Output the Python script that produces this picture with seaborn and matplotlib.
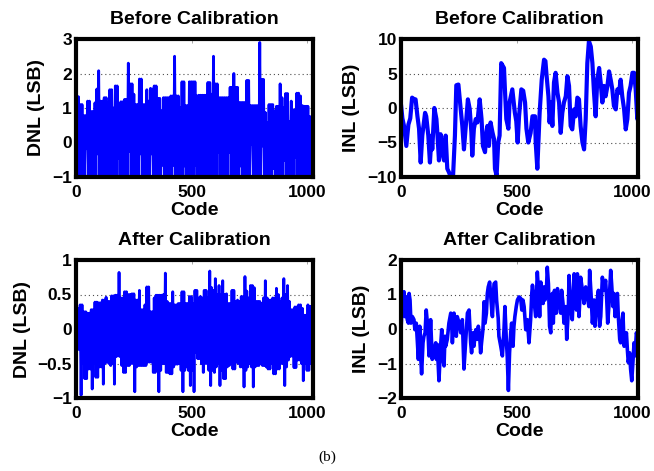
import numpy as np
import pandas as pd
import seaborn as sns
import matplotlib.pyplot as plt

# DNL is read as the top / bottom of the trace over blocks of 8 codes
BLOCK = 8

dnl_before_hi = [1.33, 1.33, 1.1, 1.1, 0.78, 0.78, 1.2, 1.2,
                 0.9, 0.9, 1.15, 1.55, 2.08, 1.2, 1.2, 1.3,
                 1.3, 1.15, 1.53, 1.53, 1.0, 1.64, 1.64, 1.1,
                 1.18, 1.18, 1.25, 1.25, 2.3, 1.7, 1.7, 1.4,
                 1.1, 1.1, 1.84, 1.84, 1.1, 1.1, 1.53, 1.2,
                 1.57, 1.55, 1.64, 1.64, 1.28, 1.28, 0.92, 1.3,
                 1.3, 1.3, 1.3, 1.35, 1.35, 2.5, 1.35, 1.35,
                 1.0, 1.76, 1.76, 1.07, 1.07, 1.76, 1.76, 1.76,
                 1.76, 1.35, 1.37, 1.37, 1.37, 1.37, 1.37, 1.74,
                 1.74, 1.4, 2.5, 1.7, 1.7, 1.3, 1.3, 1.3,
                 1.3, 1.3, 1.3, 1.6, 1.6, 2.0, 1.6, 1.6,
                 1.16, 1.16, 1.16, 1.16, 1.8, 1.8, 1.07, 1.07,
                 1.07, 1.07, 1.07, 2.9, 1.83, 1.83, 0.87, 0.57,
                 1.1, 1.1, 1.1, 0.92, 1.05, 1.05, 1.7, 1.3,
                 1.0, 1.42, 1.42, 0.6, 1.2, 0.95, 0.95, 1.43,
                 1.43, 1.35, 1.07, 1.05, 1.05, 1.05, 0.75, 0.75]

dnl_before_lo = [-1, -1, -1, -1, -1, -0.18, -1, -1,
                 -1, -1, -1, -0.33, -1, -1, -1, -1,
                 -0.23, -1, -1, -1, -1, -1, -0.45, -1,
                 -1, -1, -1, -1, -0.25, -1, -1, -1,
                 -1, -1, -0.33, -1, -1, -1, -1, -1,
                 -0.33, -1, -1, -1, -1, -1, -0.66, -1,
                 -1, -1, -1, -1, -0.66, -1, -1, -1,
                 -1, -1, -0.68, -1, -1, -1, -1, -1,
                 -0.66, -1, -1, -1, -1, -1, -0.7, -1,
                 -1, -1, -1, -1, -0.28, -1, -1, -1,
                 -1, -1, -0.28, -1, -1, -1, -1, -1,
                 -0.68, -1, -1, -1, -1, -1, -0.06, -1,
                 -1, -1, -1, -1, -0.1, -1, -1, -1,
                 -1, -1, -0.75, -1, -1, -1, -1, -1,
                 -0.52, -1, -1, -1, -1, -1, -0.43, -1,
                 -1, -1, -1, -1, -0.43, -1, -1, -1]

dnl_after_hi = [0.15, 0.3, 0.35, 0.35, 0.25, 0.25, 0.23, 0.23,
                0.28, 0.28, 0.39, 0.39, 0.38, 0.38, 0.42, 0.42,
                0.46, 0.4, 0.4, 0.48, 0.48, 0.49, 0.49, 0.82,
                0.45, 0.45, 0.54, 0.54, 0.5, 0.5, 0.51, 0.51,
                0.42, 0.42, 0.56, 0.28, 0.28, 0.35, 0.61, 0.61,
                0.25, 0.25, 0.45, 0.49, 0.49, 0.49, 0.49, 0.5,
                0.81, 0.4, 0.37, 0.37, 0.54, 0.35, 0.35, 0.37,
                0.37, 0.54, 0.54, 0.37, 0.37, 0.47, 0.47, 0.37,
                0.56, 0.56, 0.45, 0.47, 0.45, 0.56, 0.56, 0.45,
                0.84, 0.6, 0.56, 0.73, 0.5, 0.63, 0.5, 0.7,
                0.5, 0.51, 0.37, 0.37, 0.56, 0.56, 0.4, 0.42,
                0.4, 0.47, 0.47, 0.76, 0.55, 0.45, 0.63, 0.63,
                0.6, 0.4, 0.4, 0.4, 0.37, 0.45, 0.7, 0.45,
                0.42, 0.42, 0.45, 0.45, 0.59, 0.5, 0.4, 0.45,
                0.73, 0.5, 0.63, 0.4, 0.28, 0.28, 0.32, 0.32,
                0.35, 0.35, 0.3, 0.2, 0.2, 0.35, 0.33, 0.33]

dnl_after_lo = [-0.1, -0.3, -0.96, -0.5, -0.72, -0.72, -0.58, -0.58,
                -0.87, -0.5, -0.7, -0.7, -0.55, -0.55, -0.8, -0.5,
                -0.39, -0.5, -0.53, -0.5, -0.8, -0.4, -0.39, -0.4,
                -0.53, -0.63, -0.63, -0.53, -0.53, -0.5, -0.5, -0.91,
                -0.55, -0.53, -0.53, -0.53, -0.53, -0.53, -0.48, -0.48,
                -0.48, -0.63, -0.63, -0.55, -0.91, -0.6, -0.5, -0.5,
                -0.63, -0.63, -0.65, -0.65, -0.55, -0.51, -0.51, -0.5,
                -0.6, -0.91, -0.6, -0.55, -0.6, -0.82, -0.6, -0.91,
                -0.34, -0.43, -0.43, -0.5, -0.63, -0.5, -0.5, -0.6,
                -0.82, -0.6, -0.63, -0.55, -0.5, -0.82, -0.6, -0.72,
                -0.72, -0.55, -0.53, -0.5, -0.58, -0.58, -0.48, -0.5,
                -0.55, -0.55, -0.84, -0.6, -0.55, -0.5, -0.55, -0.84,
                -0.55, -0.53, -0.53, -0.5, -0.53, -0.53, -0.55, -0.58,
                -0.58, -0.5, -0.65, -0.65, -0.58, -0.58, -0.5, -0.5,
                -0.82, -0.55, -0.45, -0.4, -0.39, -0.56, -0.56, -0.45,
                -0.45, -0.5, -0.75, -0.5, -0.6, -0.6, -0.5, -0.45]

inl_before_code = [0, 6, 13, 23, 32, 40, 48, 56, 63, 71, 78, 85, 92, 104, 109,
                   118, 125, 132, 135, 144, 153, 157, 164, 171, 179, 186, 193,
                   200, 207, 215, 225, 233, 239, 248, 258, 265, 272, 279, 289,
                   297, 304, 308, 315, 323, 330, 340, 348, 354, 363, 369, 373,
                   380, 387, 395, 402, 406, 413, 420, 426, 433, 445, 449, 455,
                   464, 469, 481, 492, 498, 504, 510, 520, 528, 536, 542, 550,
                   560, 568, 579, 582, 589, 593, 599, 608, 618, 624, 628, 637,
                   642, 648, 654, 661, 668, 676, 683, 690, 697, 704, 712, 719,
                   726, 733, 740, 748, 755, 762, 769, 776, 784, 791, 798, 805,
                   812, 820, 827, 834, 841, 848, 856, 863, 870, 877, 884, 892,
                   899, 906, 913, 920, 928, 935, 942, 949, 956, 964, 971, 978,
                   985, 992, 1000, 1007, 1014, 1021, 1023]
inl_before_val = [0.5, -1.5, -2.6, -5.5, -2.4, -1.5, 1.5, 1.3, 1.25, -1.2, -3.0,
                  -7.9, -4.0, -0.7, -1.2, -4.0, -7.9, -4.0, -6.0, 0.0, -1.6, -3.6,
                  -7.6, -3.8, -6.4, -7.6, -4.0, -8.8, -9.3, -10.0, -9.8, -4.0, 3.3,
                  3.4, -0.2, -2.6, -6.0, -3.0, 1.25, -0.2, -3.5, -6.9, -3.0, -1.6,
                  -2.1, 1.25, -1.6, -5.5, -6.4, -3.5, -2.6, -5.5, -2.1, -3.5, -4.5,
                  -8.8, -9.8, -5.0, -4.0, 6.5, 5.8, 2.7, -1.6, -3.0, 0.8, 2.7, -0.7,
                  -1.9, -5.0, -1.2, 2.7, 2.5, 0.8, -3.0, -5.0, -3.6, -1.2, -1.2,
                  -5.0, -8.8, -5.5, -0.7, 4.1, 7.0, 6.8, 5.1, 1.7, -2.1, 0.8, -2.6,
                  3.7, 5.1, 2.2, 0.8, -3.6, -0.7, 0.8, 1.7, 4.6, 3.2, -2.6, -3.1,
                  -0.2, -1.2, 1.5, 1.25, -2.6, -5.0, -6.0, -1.6, 6.5, 9.7, 8.9, 6.5,
                  2.2, -1.2, 4.1, 5.8, 3.6, 0.8, 3.2, 1.7, 3.2, 5.3, 4.1, 2.7, 0.3,
                  -0.2, 2.7, 2.2, 4.1, 1.7, -0.2, -3.1, -1.6, 2.2, 3.2, 5.1, 5.1,
                  2.7, -1.6, -0.7]

inl_after_code = [0, 3, 9, 13, 17, 23, 27, 32, 35, 39, 43, 49, 56, 60, 66, 71, 75,
                  81, 85, 89, 95, 99, 104, 109, 114, 118, 121, 128, 132, 135, 140,
                  144, 150, 153, 157, 161, 164, 171, 176, 179, 186, 190, 193, 200,
                  207, 215, 219, 222, 229, 233, 239, 243, 251, 258, 265, 272, 279,
                  287, 294, 301, 305, 311, 315, 323, 330, 334, 340, 344, 348, 354,
                  359, 363, 369, 373, 377, 383, 387, 392, 395, 402, 409, 413, 420,
                  423, 431, 438, 445, 449, 455, 459, 464, 469, 474, 478, 484, 488,
                  492, 498, 503, 510, 517, 522, 527, 532, 539, 546, 553, 560, 565,
                  568, 575, 579, 582, 589, 594, 599, 604, 608, 614, 618, 622, 628,
                  632, 637, 642, 647, 651, 654, 658, 663, 668, 671, 676, 680, 686,
                  690, 694, 700, 704, 712, 716, 723, 726, 733, 740, 748, 755, 758,
                  762, 769, 774, 776, 784, 791, 798, 805, 812, 815, 821, 827, 834,
                  838, 844, 853, 858, 863, 870, 877, 884, 889, 893, 899, 906, 910,
                  916, 920, 925, 930, 935, 939, 945, 949, 954, 959, 964, 968, 974,
                  978, 982, 988, 992, 997, 1002, 1007, 1011, 1017, 1021, 1023]
inl_after_val = [0.0, 0.36, 0.74, 1.08, 0.36, 0.93, 0.27, 0.17, 1.03, 0.84, 0.17,
                 0.36, 0.27, -0.02, 0.17, -0.4, -0.88, 0.08, -0.78, -1.3, -0.4,
                 -0.21, -0.11, 0.55, 0.17, -0.3, -0.78, 0.27, -0.4, -0.88, -0.69,
                 -0.59, -0.4, -0.88, -0.45, -1.07, -1.5, -0.5, -0.02, -0.78, -1.07,
                 -0.21, -0.5, -0.3, 0.17, 0.46, 0.17, -0.4, 0.46, 0.17, -0.21, 0.36,
                 0.17, -0.11, 0.27, -1.16, -0.4, 0.46, 0.55, -0.4, -0.69, -0.11,
                 -0.5, -0.02, -0.3, 0.08, -0.21, -0.69, -0.4, -0.02, 0.79, 0.17,
                 0.46, 1.03, 1.22, 1.36, 1.03, 0.55, 0.36, 1.31, 1.36, 0.84, 0.31,
                 -0.21, -0.5, -0.78, -0.02, 0.65, -0.3, -0.78, -1.78, -0.69, -0.11,
                 0.17, -0.5, 0.08, 0.36, 0.65, 0.84, 0.93, 0.89, 0.55, 0.84, 0.65,
                 -0.02, 0.27, -0.4, 0.27, 1.03, 1.27, 0.84, 0.55, 0.36, 1.65, 1.12,
                 0.36, 1.36, 1.12, 0.74, 1.22, 0.84, 1.03, 1.79, 1.31, 0.08, -0.11,
                 0.84, 1.03, 0.17, 1.12, 0.93, 0.46, 1.17, 0.84, 0.65, 0.46, 1.12,
                 0.74, 0.17, 0.65, -0.3, 0.55, 1.55, 0.65, 0.27, 1.6, 1.12, 0.55,
                 1.6, 0.36, 1.03, 1.5, 1.12, 0.74, 1.22, 0.93, 0.65, 1.7, 1.03, 0.17,
                 0.84, 0.08, 0.65, 1.12, 0.08, 0.36, 1.5, 1.12, 1.41, 0.84, 0.17,
                 0.74, 1.7, 1.31, 0.65, 1.03, 0.36, 0.74, 1.03, 0.36, -0.3, -0.4,
                 0.17, 0.46, -0.5, -0.3, -0.11, -0.59, -0.97, -0.69, -1.16, -1.5,
                 -0.97, -0.4, -0.78, -0.11, -0.21, -0.1]


def dnl_frame(hi, lo):
    n = len(hi)
    blocks = np.arange(n) * BLOCK
    code = np.empty(2 * n)
    val = np.empty(2 * n)
    code[0::2] = blocks + 2
    code[1::2] = blocks + 6
    val[0::2] = hi
    val[1::2] = lo
    return pd.DataFrame({'code': code, 'val': val})


def fmt(t):
    return ('%g' % t).replace('-', '\u2212')


def style_axes(ax, yticks, ylabel, title):
    ax.set_xlim(0, 1024)
    ax.set_ylim(yticks[0], yticks[-1])
    ax.set_xticks([0, 500, 1000])
    ax.set_yticks(yticks, [fmt(t) for t in yticks])
    for s in ax.spines.values():
        s.set_visible(True)
        s.set_linewidth(3)
        s.set_color('black')
    ax.tick_params(direction='in', length=3, width=0.6, color='0.6',
                   labelcolor='black', top=True, right=True, labelsize=12.5)
    ax.tick_params(axis='x', pad=6)
    ax.tick_params(axis='y', pad=3)
    ax.yaxis.grid(True, linestyle=(0, (1, 2.7)), color='0.3', linewidth=0.8)
    ax.xaxis.grid(False)
    ax.set_axisbelow(True)
    ax.set_xlabel('Code', fontsize=14, fontweight='bold', labelpad=1,
                  color='black')
    ax.set_ylabel(ylabel, fontsize=14, fontweight='bold', labelpad=5,
                  color='black')
    ax.set_title(title, fontsize=14, fontweight='bold', pad=11, color='black')


sns.set_style('white')
plt.rcParams['font.family'] = ['Liberation Sans', 'DejaVu Sans']
plt.rcParams['font.weight'] = 'bold'
plt.rcParams['text.color'] = 'black'
plt.rcParams['path.simplify'] = False

fig = plt.figure(figsize=(6.54, 4.71), dpi=100)
w, h = 237 / 654, 138 / 471
ax1 = fig.add_axes([76 / 654, 294 / 471, w, h])
ax2 = fig.add_axes([401 / 654, 294 / 471, w, h])
ax3 = fig.add_axes([76 / 654, 73 / 471, w, h])
ax4 = fig.add_axes([401 / 654, 73 / 471, w, h])

df = dnl_frame(dnl_before_hi, dnl_before_lo)
sns.lineplot(data=df, x='code', y='val', ax=ax1, color='blue', linewidth=2.0,
             estimator=None, sort=False)
style_axes(ax1, [-1, 0, 1, 2, 3], 'DNL (LSB)', 'Before Calibration')

sns.lineplot(x=inl_before_code, y=inl_before_val, ax=ax2, color='blue',
             linewidth=3.0, estimator=None, sort=False)
style_axes(ax2, [-10, -5, 0, 5, 10], 'INL (LSB)', 'Before Calibration')

df = dnl_frame(dnl_after_hi, dnl_after_lo)
sns.lineplot(data=df, x='code', y='val', ax=ax3, color='blue', linewidth=2.0,
             estimator=None, sort=False)
style_axes(ax3, [-1, -0.5, 0, 0.5, 1], 'DNL (LSB)', 'After Calibration')

sns.lineplot(x=inl_after_code, y=inl_after_val, ax=ax4, color='blue',
             linewidth=2.6, estimator=None, sort=False)
style_axes(ax4, [-2, -1, 0, 1, 2], 'INL (LSB)', 'After Calibration')

fig.text(0.5, 14 / 471, '(b)', family=['Liberation Serif', 'DejaVu Serif'],
         fontsize=11, fontweight='normal', ha='center', va='center')

fig.savefig('out.png', dpi=100)
